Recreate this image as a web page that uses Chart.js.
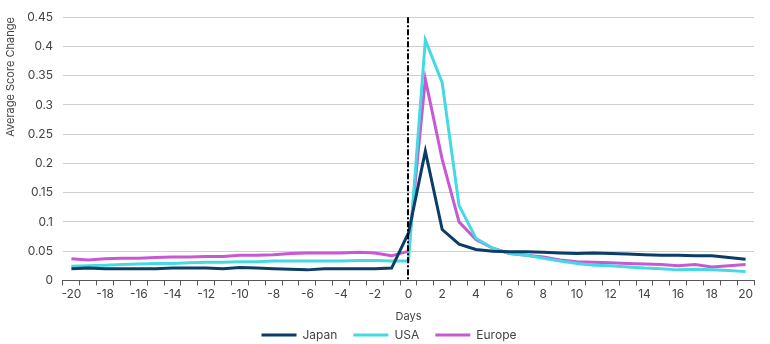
<!DOCTYPE html>
<html>
<head>
<meta charset="utf-8">
<script src="https://cdn.jsdelivr.net/npm/chart.js@4"></script>
<style>
html,body{margin:0;padding:0;background:#fff;}
#wrap{width:770px;height:344px;position:relative;}
</style>
</head>
<body>
<div id="wrap"><canvas id="c" width="770" height="344"></canvas></div>
<script>
const days = [-20,-19,-18,-17,-16,-15,-14,-13,-12,-11,-10,-9,-8,-7,-6,-5,-4,-3,-2,-1,0,1,2,3,4,5,6,7,8,9,10,11,12,13,14,15,16,17,18,19,20];
const japan = [0.020,0.021,0.020,0.020,0.020,0.020,0.021,0.021,0.021,0.020,0.022,0.021,0.020,0.019,0.018,0.020,0.020,0.020,0.020,0.021,0.081,0.221,0.087,0.062,0.053,0.050,0.049,0.049,0.048,0.047,0.046,0.047,0.046,0.045,0.044,0.043,0.043,0.042,0.042,0.039,0.036];
const usa = [0.024,0.025,0.026,0.027,0.028,0.029,0.029,0.030,0.031,0.031,0.032,0.032,0.033,0.033,0.033,0.033,0.033,0.034,0.034,0.033,0.033,0.411,0.338,0.128,0.072,0.055,0.046,0.043,0.038,0.033,0.029,0.026,0.025,0.023,0.021,0.020,0.018,0.019,0.018,0.017,0.015];
const europe = [0.037,0.035,0.037,0.038,0.038,0.039,0.040,0.040,0.041,0.041,0.043,0.043,0.044,0.046,0.047,0.047,0.047,0.048,0.047,0.042,0.050,0.344,0.207,0.100,0.070,0.055,0.046,0.043,0.040,0.035,0.032,0.031,0.030,0.029,0.028,0.027,0.025,0.027,0.023,0.025,0.027];
const seriesNames = ['Japan','USA','Europe'];
const seriesColors = ['#0b3d66','#45d9e3','#c75ad2'];
const eventDay = 0;

const FONT = 'Inter, "Open Sans", sans-serif';

const eventLine = {
  id: 'eventLine',
  afterDatasetsDraw(chart) {
    const x = chart.scales.x.getPixelForValue(days.indexOf(eventDay));
    const top = chart.chartArea.top;
    const bottom = chart.chartArea.bottom;
    const ctx = chart.ctx;
    ctx.save();
    ctx.strokeStyle = '#000';
    ctx.lineWidth = 2;
    ctx.setLineDash([6,2,2,2]);
    ctx.beginPath();
    ctx.moveTo(Math.round(x), top);
    ctx.lineTo(Math.round(x), bottom);
    ctx.stroke();
    ctx.restore();
  }
};

const legendShift = {
  id: 'legendShift',
  afterLayout(chart) {
    if (chart.legend) {
      chart.legend.left += 12;
      chart.legend.right += 12;
    }
  }
};

new Chart(document.getElementById('c'), {
  type: 'line',
  data: {
    labels: days,
    datasets: [japan, usa, europe].map((d, i) => ({
      label: seriesNames[i],
      data: d,
      borderColor: seriesColors[i],
      backgroundColor: seriesColors[i],
      borderWidth: 3,
      pointRadius: 0,
      tension: 0,
      fill: false
    }))
  },
  options: {
    responsive: false,
    animation: false,
    devicePixelRatio: 1,
    layout: { padding: { left: 0, right: 16, top: 2, bottom: 0 } },
    plugins: {
      tooltip: { enabled: false },
      legend: {
        position: 'bottom',
        maxHeight: 31,
        labels: {
          boxWidth: 35,
          boxHeight: 3,
          padding: 16,
          color: '#444',
          font: { family: FONT, size: 12 },
          generateLabels(chart) {
            return chart.data.datasets.map((ds, i) => ({
              text: ds.label,
              fillStyle: ds.borderColor,
              strokeStyle: ds.borderColor,
              lineWidth: 0,
              datasetIndex: i,
              fontColor: '#444'
            }));
          }
        }
      }
    },
    scales: {
      x: {
        type: 'category',
        offset: true,
        grid: { display: true, offset: true, drawOnChartArea: false, drawTicks: true, tickLength: 5, color: '#555' },
        border: { display: true, color: '#555', width: 1 },
        ticks: {
          autoSkip: false,
          maxRotation: 0,
          padding: 2,
          color: '#444',
          font: { family: FONT, size: 12 },
          callback(v, idx) { const d = days[idx]; return d % 2 === 0 ? String(d) : ''; }
        },
        title: { display: true, text: 'Days', color: '#444', font: { family: FONT, size: 11 }, padding: { top: 6, bottom: -10 } }
      },
      y: {
        min: 0,
        max: 0.45,
        grid: { color: '#cfcfcf', drawTicks: false, lineWidth: 1 },
        border: { display: false },
        ticks: {
          stepSize: 0.05,
          padding: 10,
          color: '#444',
          font: { family: FONT, size: 12 },
          callback(v) { return String(parseFloat(v.toFixed(2))); }
        },
        title: { display: true, text: 'Average Score Change', align: 'end', color: '#444', font: { family: FONT, size: 11 }, padding: { top: 4, bottom: 0 } }
      }
    }
  },
  plugins: [eventLine, legendShift]
});
</script>
</body>
</html>
